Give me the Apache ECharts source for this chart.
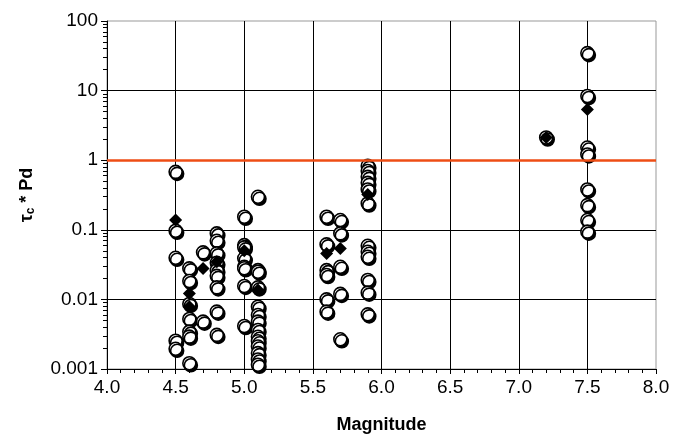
<!DOCTYPE html>
<html>
<head>
<meta charset="utf-8">
<script src="https://cdn.jsdelivr.net/npm/echarts@6/dist/echarts.min.js"></script>
<style>
  html, body { margin: 0; padding: 0; background: #fff; }
  #main { width: 680px; height: 437px; }
</style>
</head>
<body>
<div id="main"></div>
<script>
// white circles, one array per magnitude
var circles = {
    '4.5': [0.68, 0.097, 0.0396, 0.00255, 0.00195],
    '4.6': [0.0279, 0.0184, 0.0086, 0.00524, 0.00344, 0.00292, 0.00121],
    '4.7': [0.0474, 0.00479],
    '4.8': [0.0887, 0.0695, 0.0458, 0.0335, 0.0263, 0.0218, 0.0149, 0.00667, 0.00309],
    '5.0': [0.154, 0.0603, 0.056, 0.0389, 0.0294, 0.028, 0.0156, 0.00415],
    '5.1': [0.298, 0.0263, 0.025, 0.0149, 0.00785, 0.00597, 0.0048, 0.00364, 0.0029, 0.0025, 0.0021, 0.00169, 0.00137, 0.00115],
    '5.6': [0.154, 0.0617, 0.0263, 0.0224, 0.01, 0.00667],
    '5.7': [0.138, 0.0887, 0.0294, 0.012, 0.00267],
    '5.9': [0.828, 0.70, 0.576, 0.473, 0.38, 0.239, 0.0589, 0.0483, 0.0409, 0.019, 0.0125, 0.0061],
    '7.2': [2.12],
    '7.5': [34.6, 8.37, 1.52, 1.21, 0.38, 0.226, 0.138, 0.094]
};

// black diamonds
var diamondMag = [4.5, 4.6, 4.6, 4.7, 4.8, 5.0, 5.1, 5.6, 5.7, 5.9, 7.2, 7.5];
var diamondVal = [0.138, 0.0122, 0.00785, 0.0279, 0.0348, 0.05, 0.0136, 0.0458, 0.054, 0.322, 2.12, 5.34];

var threshold = 1;
// minor log ticks 2..9 in each decade
var yMinorTicks = [];
[0.001, 0.01, 0.1, 1, 10].forEach(function (d) {
    for (var k = 2; k <= 9; k++) yMinorTicks.push(+(d * k).toPrecision(3));
});

var circleData = [];
Object.keys(circles).forEach(function (m) {
    circles[m].forEach(function (v) { circleData.push([+m, v]); });
});
var diamondData = diamondMag.map(function (m, i) { return [m, diamondVal[i]]; });

var myChart = echarts.init(document.getElementById('main'));

option = {
    animation: false,
    textStyle: { fontFamily: 'Liberation Sans, Arial, sans-serif' },
    grid: {
        left: 107,
        right: 24,
        top: 21,
        bottom: 68,
        outerBoundsMode: 'none',
        show: true,
        borderColor: '#999',
        borderWidth: 1
    },
    xAxis: {
        type: 'value',
        min: 4,
        max: 8,
        interval: 0.5,
        name: 'Magnitude',
        nameLocation: 'middle',
        nameGap: 47,
        nameTextStyle: { fontSize: 18, fontWeight: 'bold', color: '#000' },
        axisLine: { show: true, lineStyle: { color: '#000', width: 1 } },
        axisTick: { show: true, length: 5, lineStyle: { color: '#000' } },
        minorTick: { show: true, splitNumber: 5, length: 4, lineStyle: { color: '#000' } },
        axisLabel: {
            fontSize: 19,
            color: '#000',
            margin: 9,
            formatter: function (v) { return v.toFixed(1); }
        },
        splitLine: { show: true, showMaxLine: false, showMinLine: false, lineStyle: { color: '#000', width: 1 } }
    },
    yAxis: [
        {
            type: 'log',
            logBase: 10,
            min: 0.001,
            max: 100,
            name: '{t|τ}{s|c}{t| * Pd}',
            nameLocation: 'middle',
            nameGap: 70,
            nameTextStyle: {
                rich: {
                    t: { fontSize: 18, fontWeight: 'bold', color: '#000' },
                    s: { fontSize: 12, fontWeight: 'bold', color: '#000', verticalAlign: 'bottom', padding: [8, 0, 0, 0] }
                }
            },
            axisLine: { show: true, lineStyle: { color: '#000', width: 1 } },
            axisTick: { show: true, length: 6, lineStyle: { color: '#000' } },
            axisLabel: {
                fontSize: 19,
                color: '#000',
                margin: 9,
                formatter: function (v) { return String(+v.toPrecision(3)); }
            },
            splitLine: { show: true, showMaxLine: false, showMinLine: false, lineStyle: { color: '#000', width: 1 } }
        },
        {
            // overlay axis that only carries the 2..9 minor ticks
            type: 'log',
            logBase: 10,
            min: 0.001,
            max: 100,
            position: 'left',
            axisLine: { show: false },
            axisTick: { show: true, length: 4, customValues: yMinorTicks, lineStyle: { color: '#000' } },
            axisLabel: { show: false },
            splitLine: { show: false }
        }
    ],
    series: [
        {
            name: 'circles',
            type: 'scatter',
            symbol: 'circle',
            symbolSize: 13,
            itemStyle: {
                color: '#fff',
                opacity: 1,
                borderColor: '#000',
                borderWidth: 1.6,
                shadowColor: '#000',
                shadowOffsetX: 1.5,
                shadowOffsetY: 2,
                shadowBlur: 0
            },
            data: circleData,
            markLine: {
                silent: true,
                symbol: 'none',
                label: { show: false },
                lineStyle: { color: '#ee4d14', width: 2.5, type: 'solid', opacity: 1 },
                data: [{ yAxis: threshold }]
            }
        },
        {
            name: 'diamonds',
            type: 'scatter',
            symbol: 'diamond',
            symbolSize: 13,
            itemStyle: { color: '#000', opacity: 1 },
            data: diamondData
        }
    ]
};
myChart.setOption(option);
</script>
</body>
</html>
